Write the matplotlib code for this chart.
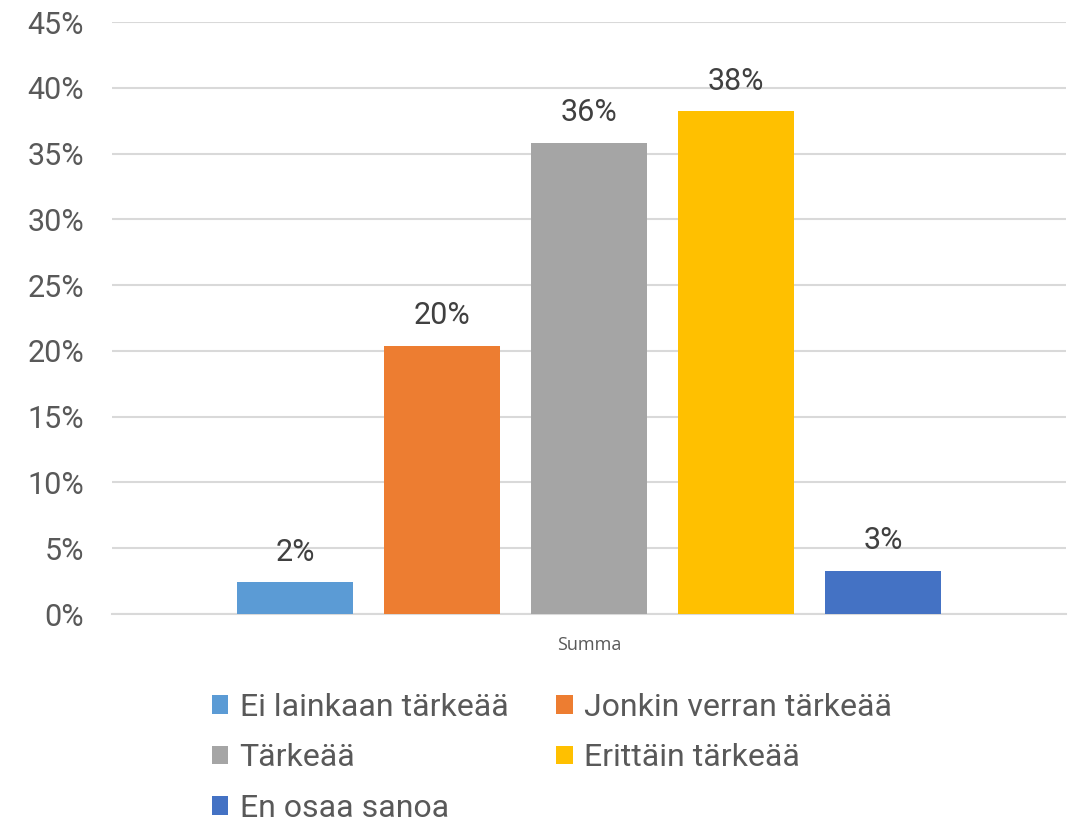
import matplotlib.pyplot as plt
from matplotlib.ticker import MultipleLocator, FuncFormatter

category = 'Summa'
series = ['Ei lainkaan tärkeää', 'Jonkin verran tärkeää', 'Tärkeää',
          'Erittäin tärkeää', 'En osaa sanoa']
values = [2.4, 20.4, 35.8, 38.2, 3.3]
labels = ['2%', '20%', '36%', '38%', '3%']
colors = ['#5B9BD5', '#ED7D31', '#A5A5A5', '#FFC000', '#4472C4']

plt.rcParams['font.family'] = ['Roboto', 'DejaVu Sans']
txt = '#595959'

fig = plt.figure(figsize=(10.79, 8.24), dpi=100)
ax = fig.add_axes([112/1079, 1 - 614/824, 954/1079, 592/824])

step = 147/954
width = 116/954
handles = []
for i, (s, v, c, l) in enumerate(zip(series, values, colors, labels)):
    x = (i - 2) * step
    b = ax.bar(x, v, width=width, color=c, label=s, zorder=3)
    handles.append(b)
    ax.text(x, v + 1.2, l, ha='center', va='bottom', fontsize=22,
            color='#404040')

ax.set_xlim(-0.5, 0.5)
ax.set_ylim(0, 45)
ax.yaxis.set_major_locator(MultipleLocator(5))
ax.yaxis.set_major_formatter(FuncFormatter(lambda v, p: '%d%%' % v))
ax.set_xticks([0])
ax.set_xticklabels([category], fontsize=13, color=txt, family='Open Sans')
ax.tick_params(axis='x', length=0, pad=16)
ax.tick_params(axis='y', length=0, pad=20, labelsize=22, labelcolor=txt)

ax.grid(axis='y', color='#d9d9d9', linewidth=1.5, zorder=0)
for sp in ['top', 'right', 'left']:
    ax.spines[sp].set_visible(False)
ax.spines['bottom'].set_color('#d9d9d9')
ax.spines['bottom'].set_linewidth(1.5)

# row-major order for a 2-column legend
order = [0, 2, 4, 1, 3]
leg = ax.legend([handles[k] for k in order], [series[k] for k in order],
                loc='upper left', bbox_to_anchor=(186/1079, 1 - 667/824),
                bbox_transform=fig.transFigure, ncol=2, frameon=False,
                fontsize=23, handlelength=0.53, handleheight=0.53,
                handletextpad=0.35, columnspacing=1.5, labelspacing=0.68,
                borderpad=0.3)
for t in leg.get_texts():
    t.set_color(txt)

plt.savefig('out.png', dpi=100)
